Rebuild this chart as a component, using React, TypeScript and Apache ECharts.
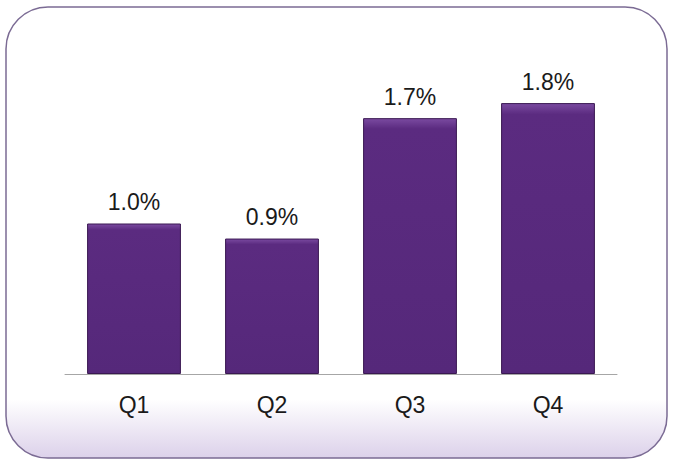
import React, { useEffect, useRef } from "react";
import * as echarts from "echarts";

const categories = ["Q1", "Q2", "Q3", "Q4"];
const values = [1.0, 0.9, 1.7, 1.8];
const valueLabels = ["1.0%", "0.9%", "1.7%", "1.8%"];

export default function App() {
  const ref = useRef<HTMLDivElement>(null);
  useEffect(() => {
    const chart = echarts.init(ref.current!, null, { renderer: "svg" });
    chart.setOption({
      animation: false,
      backgroundColor: "#ffffff",
      graphic: [
        {
          type: "rect",
          z: -10,
          shape: { x: 6, y: 7, width: 661, height: 451, r: 42 },
          style: {
            fill: new echarts.graphic.LinearGradient(0, 0, 0, 1, [
              { offset: 0, color: "#ffffff" },
              { offset: 0.87, color: "#ffffff" },
              { offset: 1, color: "#dcd1ea" },
            ]),
            stroke: "#7b6b94",
            lineWidth: 1.5,
          },
        },
      ],
      grid: { left: 65, right: 57, top: 73, bottom: 85 },
      xAxis: {
        type: "category",
        data: categories,
        axisLine: { show: true, lineStyle: { color: "#a6a6a6", width: 1 } },
        axisTick: { show: false },
        axisLabel: {
          color: "#1a1a1a",
          fontSize: 23,
          fontFamily: "Liberation Sans, Arial, sans-serif",
          margin: 19,
        },
      },
      yAxis: {
        type: "value",
        min: 0,
        max: 2,
        show: false,
        splitLine: { show: false },
      },
      series: [
        {
          type: "bar",
          data: values,
          barWidth: "68%",
          itemStyle: {
            color: new echarts.graphic.LinearGradient(0, 0, 0, 1, [
              { offset: 0, color: "#7a4aa0" },
              { offset: 0.04, color: "#5b2b80" },
              { offset: 1, color: "#55287a" },
            ]),
            borderColor: "#3a1852",
            borderWidth: 1,
          },
          label: {
            show: true,
            position: "top",
            distance: 10,
            color: "#1a1a1a",
            fontSize: 23,
            fontFamily: "Liberation Sans, Arial, sans-serif",
            formatter: (p: any) => valueLabels[p.dataIndex],
          },
        },
      ],
    });
    return () => chart.dispose();
  }, []);
  return (
    <div
      ref={ref}
      style={{ position: "fixed", left: 0, top: 0, width: 674, height: 459 }}
    />
  );
}
